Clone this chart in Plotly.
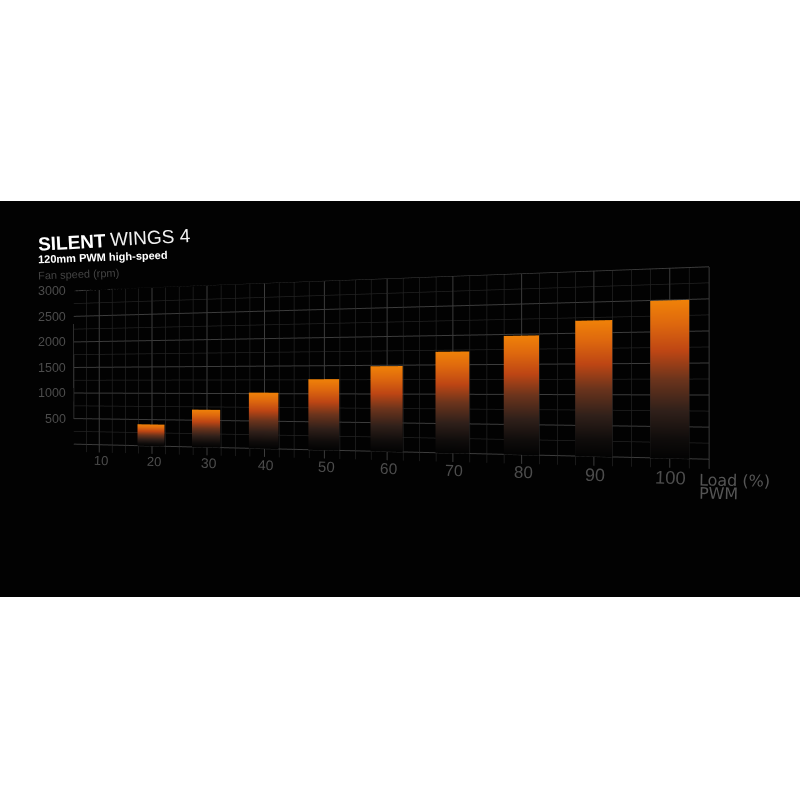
import plotly.graph_objects as go

load = [20, 30, 40, 50, 60, 70, 80, 90, 100]
rpm = [410, 698, 1018, 1260, 1484, 1722, 1973, 2200, 2490]
x_tick_labels = [10, 20, 30, 40, 50, 60, 70, 80, 90, 100]
x_tick_sizes = [13, 13, 14, 14, 15, 15.5, 16, 17, 18, 18.5]
y_tick_labels = [500, 1000, 1500, 2000, 2500, 3000]

BAR_W = 5
stops = [(0.0, (3, 3, 3)), (0.12, (15, 12, 11)), (0.3, (48, 32, 26)), (0.5, (108, 52, 28)),
         (0.68, (190, 70, 20)), (0.85, (222, 104, 14)), (1.0, (240, 130, 8))]

fig = go.Figure()

def lines(xs, zs, color, width, name):
    fig.add_trace(go.Scatter3d(x=xs, y=[-0.4 if v is not None else None for v in xs], z=zs, mode="lines",
                               line=dict(color=color, width=width), hoverinfo="skip", name=name, showlegend=False))

X0, X1, Z0, Z1, ZMIN = 5, 105, -150, 3000, -400
xminor, zminor, xmajor, zmajor, xh, zh, xhm, zhm = [], [], [], [], [], [], [], []
for i in range(41):
    v = X0 + 2.5 * i
    if v % 10 == 0 or v == X0 or v == X1:
        xmajor += [v, v, None]; zmajor += [Z0, Z1, None]
    else:
        xminor += [v, v, None]; zminor += [Z0, Z1, None]
for r in range(0, 3001, 250):
    if r % 500 == 0:
        xh += [X0, X1, None]; zh += [r, r, None]
    else:
        xhm += [X0, X1, None]; zhm += [r, r, None]
lines(xminor, zminor, "#222222", 1.5, "minor x")
lines(xhm, zhm, "#222222", 1.5, "minor y")
lines(xmajor, zmajor, "#3c3c3c", 2, "major x")
lines(xh, zh, "#3c3c3c", 2, "major y")

for xv, val in zip(load, rpm):
    vx, vy, vz, vc, I, J, K = [], [], [], [], [], [], []
    for n, (f, c) in enumerate(stops):
        for side in (-1, 1):
            vx.append(xv + side * BAR_W / 2); vy.append(-0.8); vz.append(val * f)
            vc.append("rgb(%d,%d,%d)" % c)
        if n:
            a = 2 * n - 2
            I += [a, a + 1]; J += [a + 1, a + 3]; K += [a + 2, a + 2]
    fig.add_trace(go.Mesh3d(x=vx, y=vy, z=vz, i=I, j=J, k=K, vertexcolor=vc, hoverinfo="skip", showscale=False,
                            lighting=dict(ambient=1, diffuse=0, specular=0, roughness=1, fresnel=0), flatshading=False,
                            name=str(xv)))

scene_ann = []
for lab, sz in zip(x_tick_labels, x_tick_sizes):
    scene_ann.append(dict(x=lab, y=0, z=-300, text=str(lab), showarrow=False, textangle=2, xshift=1,
                          font=dict(family="Liberation Sans", size=sz, color="#4c4c4c")))
for lab in y_tick_labels:
    scene_ann.append(dict(x=X0, y=0, z=lab, text=str(lab), showarrow=False, xanchor="right", xshift=-7,
                          font=dict(family="Liberation Sans", size=12.5, color="#4c4c4c")))

annots = [
    dict(x=35 / 800, y=1 - 242 / 800, text="<b>SILENT</b>", font=dict(family="Liberation Sans", size=19, color="#fff"), textangle=-3),
    dict(x=107 / 800, y=1 - 237 / 800, text="WINGS 4", font=dict(family="Liberation Sans", size=19, color="#f0f0f0"), textangle=-3),
    dict(x=36 / 800, y=1 - 257 / 800, text="<b>120mm PWM high-speed</b>", font=dict(family="Liberation Sans", size=11, color="#fff"), textangle=-2),
    dict(x=36 / 800, y=1 - 274 / 800, text="Fan speed (rpm)", font=dict(family="Liberation Sans", size=11, color="#444"), textangle=-2),
    dict(x=697 / 800, y=1 - 480 / 800, text="Load (%)", font=dict(family="DejaVu Sans", size=16, color="#555"), textangle=1),
    dict(x=697 / 800, y=1 - 493 / 800, text="PWM", font=dict(family="DejaVu Sans", size=16, color="#555"), textangle=1),
]
for a in annots:
    a.update(xref="paper", yref="paper", xanchor="left", yanchor="middle", showarrow=False)

fig.update_layout(
    width=800, height=800, margin=dict(l=0, r=0, t=0, b=0), paper_bgcolor="#ffffff", showlegend=False,
    shapes=[dict(type="rect", xref="paper", yref="paper", x0=0, x1=1, y0=1 - 597 / 800, y1=1 - 201 / 800,
                 fillcolor="#020202", line=dict(width=0), layer="below")],
    annotations=annots,
    scene=dict(
        domain=dict(x=[0, 1], y=[0.0375, 1]),
        bgcolor="rgba(0,0,0,0)",
        aspectmode="manual", aspectratio=dict(x=1.2948, y=0.02, z=0.3731),
        xaxis=dict(range=[X0, X1], visible=False),
        yaxis=dict(range=[-1, 1], visible=False),
        zaxis=dict(range=[ZMIN, Z1], visible=False),
        camera=dict(eye=dict(x=0.6439, y=-1.6797, z=-0.01569), center=dict(x=0.1108, y=-0.0655, z=-0.01569),
                    up=dict(x=0, y=0, z=1), projection=dict(type="perspective")),
        annotations=scene_ann,
    ),
)
fig.write_html("out.html", config=dict(displayModeBar=False), post_script="document.body.style.margin='0';")
